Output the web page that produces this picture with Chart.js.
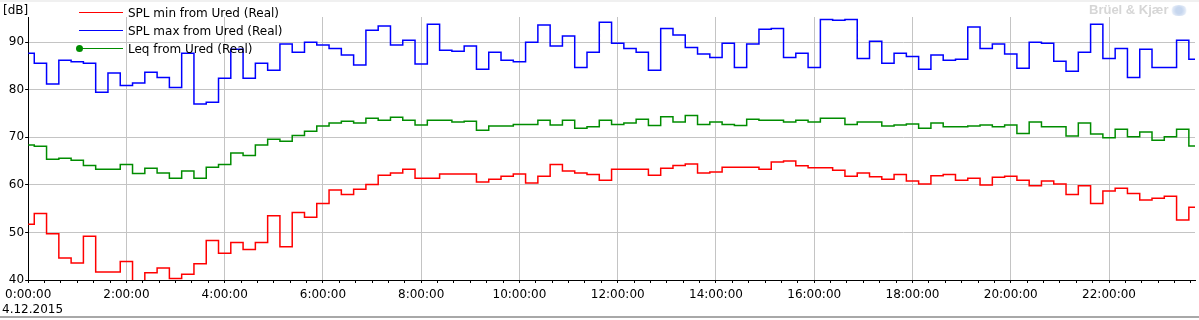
<!DOCTYPE html>
<html>
<head>
<meta charset="utf-8">
<script src="https://cdn.jsdelivr.net/npm/chart.js@4.4.1/dist/chart.umd.min.js"></script>
<style>
    html, body { margin: 0; padding: 0; background: #fff; }
    #wrap { position: relative; width: 1199px; height: 320px; overflow: hidden; font-family: 'DejaVu Sans', sans-serif; font-size: 12px; color: #000; }
    #myChart { position: absolute; left: 0; top: 0; }
    .txt { position: absolute; white-space: nowrap; line-height: 14px; }
    #legend .row { position: absolute; left: 79px; height: 14px; }
    #legend .swatch { position: absolute; left: 0; top: 6px; width: 44px; height: 0; border-top: 1px solid; }
    #legend .dot { position: absolute; left: -3px; top: 3px; width: 7px; height: 7px; border-radius: 50%; }
    #legend .label { position: absolute; left: 49px; top: 0; white-space: nowrap; line-height: 14px; }
    #topBand { position: absolute; left: 0; top: 0; width: 1199px; height: 2px; background: #f0f0f0; }
    #bottomBand { position: absolute; left: 0; top: 316px; width: 1199px; height: 2px; background: #a8a8a8; }
    #logo { position: absolute; left: 1170px; top: 5px; width: 18px; height: 11px; border-radius: 50%;
            background: radial-gradient(circle, #c6d6ee 30%, #dfe8f6 60%, rgba(255,255,255,0) 75%); }
</style>
</head>
<body>
<div id="wrap">
    <canvas id="myChart" width="1199" height="320"></canvas>
    <div id="topBand"></div>
    <div id="bottomBand"></div>
    <div class="txt" style="left:3px; top:3px;">[dB]</div>
    <div class="txt" style="left:2px; top:302px;">4.12.2015</div>
    <div class="txt" style="left:1089px; top:3px; color:#d6d6d6; font-weight:bold; font-family:'Liberation Sans', sans-serif; font-size:13px;">Brüel &amp; Kjær</div>
    <div id="logo"></div>
    <div id="legend"></div>
</div>
<script>
// 15 minute intervals, 4.12.2015 00:00 - 23:45
const sampleMinutes = 15;

const splMin = [
    51.7, 54.0, 49.7, 44.6, 43.6, 49.2, 41.7, 41.7, 43.9, 38.5, 41.5, 42.5, 40.3, 41.2, 43.4, 48.3, 45.6, 47.9, 46.4, 47.9, 53.5, 47.0, 54.2,
    53.2, 56.1, 58.9, 58.0, 59.1, 60.1, 62.0, 62.5, 63.3, 61.4, 61.4, 62.3, 62.3, 62.3, 60.6, 61.2, 61.8, 62.3, 60.4, 61.8, 64.3, 62.9, 62.5, 62.2,
    61.0, 63.3, 63.3, 63.3, 62.0, 63.5, 64.1, 64.4, 62.5, 62.7, 63.7, 63.7, 63.7, 63.3, 64.8, 65.0, 64.0, 63.6, 63.6, 63.1, 61.8, 62.5, 61.7, 61.2, 62.2,
    60.8, 60.2, 61.9, 62.2, 61.0, 61.4, 60.0, 61.6, 61.8, 61.0, 59.8, 60.8, 60.2, 58.0, 59.8, 56.1, 58.7, 59.3, 58.2, 56.8, 57.2, 57.6, 52.6, 55.3
];

const splMax = [
    87.7, 85.6, 81.2, 86.2, 85.9, 85.6, 79.5, 83.5, 80.9, 81.4, 83.7, 82.6, 80.5, 87.7, 77.0, 77.4, 82.4, 88.5, 82.4, 85.6, 84.1, 89.6, 87.9,
    90.0, 89.4, 88.7, 87.3, 85.2, 92.5, 93.4, 89.4, 90.4, 85.4, 93.8, 88.3, 88.1, 89.2, 84.3, 87.9, 86.2, 85.9, 90.0, 93.6, 89.2, 91.3, 84.7, 87.9,
    94.2, 89.8, 88.7, 87.9, 84.1, 92.9, 91.5, 88.9, 87.5, 86.8, 89.8, 84.7, 89.6, 92.7, 92.9, 86.8, 87.7, 84.7, 94.8, 94.6, 94.8, 86.6, 90.2, 85.6, 87.7,
    87.0, 84.3, 87.3, 86.2, 86.4, 93.2, 88.7, 89.6, 87.5, 84.5, 90.0, 89.8, 86.0, 83.9, 87.9, 93.8, 86.6, 88.7, 82.6, 88.5, 84.7, 84.7, 90.4, 86.4
];

const leq = [
    68.4, 68.1, 65.4, 65.6, 65.2, 64.1, 63.3, 63.3, 64.3, 62.4, 63.5, 62.5, 61.4, 62.9, 61.4, 63.7, 64.3, 66.7, 66.2, 68.4, 69.6, 69.2, 70.4,
    71.3, 72.4, 73.0, 73.4, 73.0, 74.0, 73.6, 74.2, 73.6, 72.6, 73.6, 73.6, 73.2, 73.4, 71.5, 72.4, 72.4, 72.7, 72.7, 73.6, 72.6, 73.6, 71.9, 72.2,
    73.6, 72.7, 73.0, 73.8, 72.5, 74.3, 73.2, 74.6, 72.7, 73.2, 72.7, 72.5, 73.8, 73.6, 73.6, 73.2, 73.6, 73.2, 74.0, 74.0, 72.7, 73.2, 73.2, 72.4, 72.6,
    72.8, 71.9, 73.0, 72.2, 72.2, 72.4, 72.6, 72.2, 72.6, 70.8, 73.2, 72.2, 72.2, 70.3, 73.0, 70.7, 69.9, 71.7, 70.1, 71.1, 69.4, 70.1, 71.7, 68.2
];

const seriesLabels = ['SPL min from Ured (Real)', 'SPL max from Ured (Real)', 'Leq from Ured (Real)'];
const seriesColors = ['#ff0000', '#0000ff', '#008c00'];

function toPoints(values) {
    return values.map((v, i) => ({ x: i * sampleMinutes, y: v }));
}

Chart.defaults.font.family = "'DejaVu Sans', sans-serif";
Chart.defaults.font.size = 12;
Chart.defaults.color = '#000';

const ctx = document.getElementById('myChart');

const chart = new Chart(ctx, {
    type: 'line',
    data: {
        datasets: [splMin, splMax, leq].map((values, i) => ({
            label: seriesLabels[i],
            data: toPoints(values),
            borderColor: seriesColors[i],
            backgroundColor: seriesColors[i],
            borderWidth: 1.5,
            pointRadius: 0,
            stepped: 'middle',
            fill: false
        }))
    },
    options: {
        responsive: false,
        animation: false,
        devicePixelRatio: 1,
        layout: { padding: { left: 0, right: 4, top: 17, bottom: 0 } },
        plugins: {
            legend: { display: false },
            tooltip: { enabled: false }
        },
        scales: {
            x: {
                type: 'linear',
                min: 0,
                max: 95 * sampleMinutes,
                afterFit: function (scale) { scale.height = 40; },
                border: { color: '#000', width: 1 },
                grid: {
                    color: c => (c.tick && c.tick.value % 120 === 0) ? '#c4c4c4' : 'rgba(0,0,0,0)',
                    tickColor: '#000',
                    tickLength: 3
                },
                ticks: {
                    stepSize: 20,
                    includeBounds: false,
                    autoSkip: false,
                    maxRotation: 0,
                    padding: 5,
                    callback: v => (v % 120 === 0) ? `${v / 60}:00:00` : ''
                }
            },
            y: {
                min: 40,
                max: 95.3,
                afterFit: function (scale) { scale.width = 27; },
                border: { color: '#000', width: 1 },
                grid: { color: '#c4c4c4', tickColor: '#000', tickLength: 3 },
                ticks: {
                    stepSize: 10,
                    includeBounds: false,
                    padding: 1
                }
            }
        }
    }
});

// Legend drawn over the plot, top left
const legendEl = document.getElementById('legend');
chart.data.datasets.forEach((ds, i) => {
    const row = document.createElement('div');
    row.className = 'row';
    row.style.top = (6 + i * 17.8) + 'px';
    let html = `<div class="swatch" style="border-color:${ds.borderColor}"></div>`;
    if (i === 2) html += `<div class="dot" style="background:${ds.borderColor}"></div>`;
    html += `<div class="label">${ds.label}</div>`;
    row.innerHTML = html;
    legendEl.appendChild(row);
});
</script>
</body>
</html>
